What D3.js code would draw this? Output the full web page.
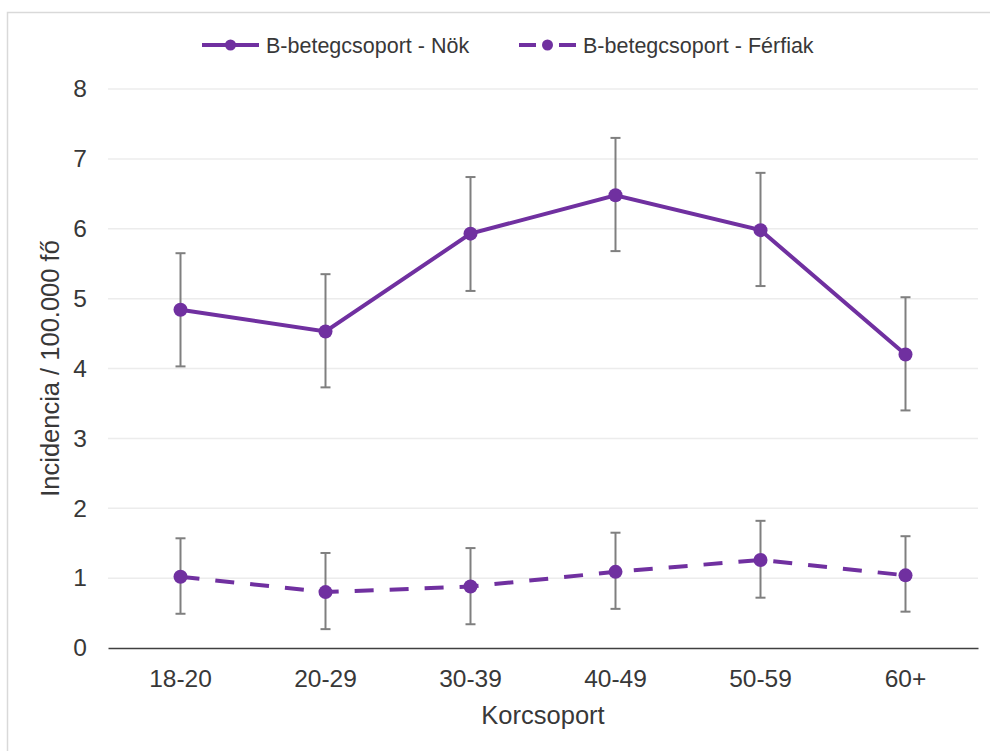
<!DOCTYPE html>
<html lang="hu">
  <head>
    <meta charset="UTF-8" />
    <title>B-betegcsoport incidencia</title>
    <script src="https://d3js.org/d3.v7.min.js"></script>
    <style>
      body { margin: 0; background: #fff; }
      svg { display: block; font-family: "Liberation Sans", Arial, sans-serif; }
    </style>
  </head>
  <body>
    <script>
      // age groups on the x axis
      const categories = ["18-20", "20-29", "30-39", "40-49", "50-59", "60+"];
      const yTicks = [0, 1, 2, 3, 4, 5, 6, 7, 8];

      // women: value, lower and upper error
      const nokValues = [4.84, 4.53, 5.93, 6.48, 5.98, 4.20];
      const nokLow = [4.03, 3.73, 5.11, 5.68, 5.18, 3.40];
      const nokHigh = [5.65, 5.35, 6.74, 7.30, 6.80, 5.02];

      // men
      const ferfiValues = [1.02, 0.80, 0.88, 1.09, 1.26, 1.04];
      const ferfiLow = [0.49, 0.27, 0.34, 0.56, 0.72, 0.52];
      const ferfiHigh = [1.57, 1.36, 1.43, 1.65, 1.82, 1.60];

      const width = 990, height = 751;
      const margin = { top: 89, right: 12, bottom: 103, left: 108 };
      const purple = "#7030a0";
      const textColor = "#383838";

      const svg = d3.select("body").append("svg")
        .attr("width", width)
        .attr("height", height);

      // outer frame
      svg.append("rect")
        .attr("x", 7.5).attr("y", 12.5)
        .attr("width", 1000).attr("height", 800)
        .attr("fill", "none")
        .attr("stroke", "#d9d9d9")
        .attr("stroke-width", 1.5);

      const x = d3.scaleBand()
        .domain(categories)
        .range([margin.left, width - margin.right]);

      const y = d3.scaleLinear()
        .domain([0, 8])
        .range([height - margin.bottom, margin.top]);

      // grid lines
      svg.append("g")
        .selectAll("line")
        .data(yTicks.filter(d => d > 0))
        .join("line")
        .attr("x1", margin.left)
        .attr("x2", width - margin.right)
        .attr("y1", d => y(d))
        .attr("y2", d => y(d))
        .attr("stroke", "#ececec")
        .attr("stroke-width", 1.5);

      // y axis labels
      const yAxis = svg.append("g")
        .attr("transform", `translate(${margin.left},0)`)
        .call(d3.axisLeft(y).tickValues(yTicks).tickSize(0).tickPadding(21));
      yAxis.select(".domain").remove();
      yAxis.selectAll("text")
        .attr("fill", textColor)
        .style("font-size", "24.5px");

      // x axis
      const xAxis = svg.append("g")
        .attr("transform", `translate(0,${y(0)})`)
        .call(d3.axisBottom(x).tickSize(0).tickPadding(22));
      xAxis.select(".domain")
        .attr("stroke", "#404040")
        .attr("stroke-width", 1.5);
      xAxis.selectAll("text")
        .attr("fill", textColor)
        .style("font-size", "24.5px");

      // axis titles
      svg.append("text")
        .attr("x", x.range()[0] + (x.range()[1] - x.range()[0]) / 2)
        .attr("y", 724)
        .attr("text-anchor", "middle")
        .attr("fill", textColor)
        .style("font-size", "25.5px")
        .text("Korcsoport");

      svg.append("text")
        .attr("transform", `translate(59,${(y(0) + y(8)) / 2}) rotate(-90)`)
        .attr("text-anchor", "middle")
        .attr("fill", textColor)
        .style("font-size", "25.5px")
        .text("Incidencia / 100.000 fő");

      const series = [
        { name: "B-betegcsoport - Nök", values: nokValues, low: nokLow, high: nokHigh, dash: null },
        { name: "B-betegcsoport - Férfiak", values: ferfiValues, low: ferfiLow, high: ferfiHigh, dash: "19,16" }
      ];

      const cx = c => x(c) + x.bandwidth() / 2;

      const line = d3.line()
        .x((d, i) => cx(categories[i]))
        .y(d => y(d));

      series.forEach(s => {
        const g = svg.append("g");

        // error bars
        const eb = g.append("g").selectAll("g")
          .data(categories)
          .join("g")
          .attr("stroke", "#7f7f7f")
          .attr("stroke-width", 2);
        eb.append("line")
          .attr("x1", d => cx(d)).attr("x2", d => cx(d))
          .attr("y1", (d, i) => y(s.low[i]))
          .attr("y2", (d, i) => y(s.high[i]));
        eb.append("line")
          .attr("x1", d => cx(d) - 5).attr("x2", d => cx(d) + 5)
          .attr("y1", (d, i) => y(s.low[i]))
          .attr("y2", (d, i) => y(s.low[i]));
        eb.append("line")
          .attr("x1", d => cx(d) - 5).attr("x2", d => cx(d) + 5)
          .attr("y1", (d, i) => y(s.high[i]))
          .attr("y2", (d, i) => y(s.high[i]));

        g.append("path")
          .datum(s.values)
          .attr("d", line)
          .attr("fill", "none")
          .attr("stroke", purple)
          .attr("stroke-width", 4)
          .attr("stroke-dasharray", s.dash);

        g.selectAll("circle")
          .data(s.values)
          .join("circle")
          .attr("cx", (d, i) => cx(categories[i]))
          .attr("cy", d => y(d))
          .attr("r", 7)
          .attr("fill", purple);
      });

      // legend
      const legendPos = [202, 519];
      const legend = svg.append("g").selectAll("g")
        .data(series)
        .join("g")
        .attr("transform", (d, i) => `translate(${legendPos[i]},45)`);
      legend.append("line")
        .attr("x1", 0).attr("x2", 57)
        .attr("stroke", purple)
        .attr("stroke-width", 4)
        .attr("stroke-dasharray", d => d.dash ? "17,23,17" : null);
      legend.append("circle")
        .attr("cx", 28.5)
        .attr("r", 5.5)
        .attr("fill", purple);
      legend.append("text")
        .attr("x", 64)
        .attr("dy", "0.35em")
        .attr("fill", textColor)
        .style("font-size", "21.5px")
        .text(d => d.name);
    </script>
  </body>
</html>
